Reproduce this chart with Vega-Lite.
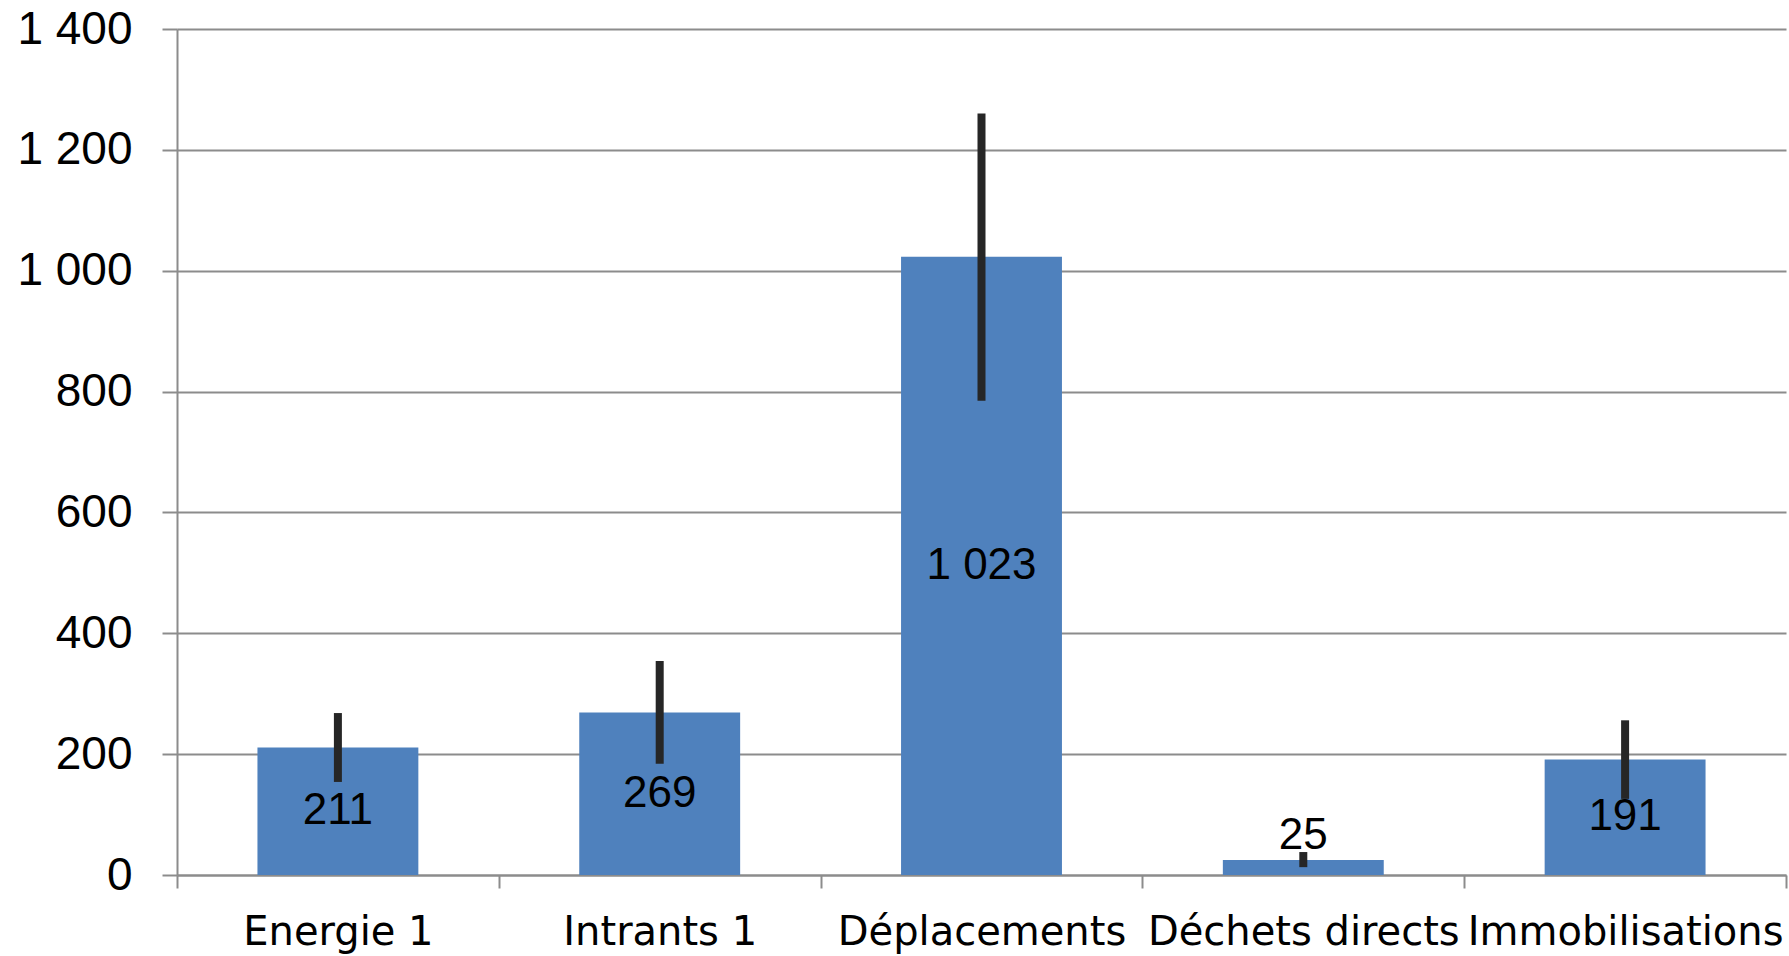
{
  "$schema": "https://vega.github.io/schema/vega-lite/v6.json",
  "autosize": "none",
  "width": 1609,
  "height": 846,
  "padding": {"left": 177, "top": 29, "right": 3, "bottom": 81},
  "background": "white",
  "config": {"view": {"stroke": null}},
  "data": {
    "values": [
      {"category": "Energie 1", "value": 211, "lo": 154, "hi": 268},
      {"category": "Intrants 1", "value": 269, "lo": 184, "hi": 354},
      {"category": "Déplacements", "value": 1023, "lo": 785, "hi": 1260},
      {"category": "Déchets directs", "value": 25, "lo": 13, "hi": 38},
      {"category": "Immobilisations", "value": 191, "lo": 126, "hi": 256}
    ]
  },
  "transform": [
    {"calculate": "replace(format(datum.value, ','), ',', ' ')", "as": "label"},
    {"calculate": "datum.value < 50 ? datum.value + 40 : datum.value / 2", "as": "labelY"}
  ],
  "encoding": {
    "x": {
      "field": "category",
      "type": "nominal",
      "sort": null,
      "title": null,
      "scale": {"paddingInner": 0, "paddingOuter": 0},
      "axis": {
        "labelAngle": 0,
        "labelFont": "DejaVu Sans",
        "labelFontSize": 40,
        "labelColor": "#000000",
        "labelPadding": 24,
        "labelOverlap": false,
        "labelLimit": 0,
        "tickBand": "extent",
        "tickSize": 13,
        "tickWidth": 2,
        "tickColor": "#8c8c8c",
        "domainColor": "#8c8c8c",
        "domainWidth": 2,
        "grid": false
      }
    }
  },
  "layer": [
    {
      "mark": {"type": "bar", "color": "#4F81BD", "width": {"band": 0.5}},
      "encoding": {
        "y": {
          "field": "value",
          "type": "quantitative",
          "title": null,
          "scale": {"domain": [0, 1400], "nice": false},
          "axis": {
            "values": [0, 200, 400, 600, 800, 1000, 1200, 1400],
            "labelExpr": "replace(format(datum.value, ','), ',', ' ')",
            "labelFont": "Liberation Sans",
            "labelFontSize": 46,
            "labelColor": "#000000",
            "labelPadding": 30,
            "tickSize": 15,
            "tickWidth": 2,
            "tickColor": "#8c8c8c",
            "domainColor": "#8c8c8c",
            "domainWidth": 2,
            "grid": true,
            "gridColor": "#8c8c8c",
            "gridWidth": 2
          }
        }
      }
    },
    {
      "mark": {"type": "rule", "color": "#262626", "strokeWidth": 8},
      "encoding": {
        "y": {"field": "lo", "type": "quantitative"},
        "y2": {"field": "hi"}
      }
    },
    {
      "mark": {"type": "text", "font": "Liberation Sans", "fontSize": 44, "color": "#000000", "baseline": "middle", "align": "center"},
      "encoding": {
        "y": {"field": "labelY", "type": "quantitative"},
        "text": {"field": "label"}
      }
    }
  ]
}
